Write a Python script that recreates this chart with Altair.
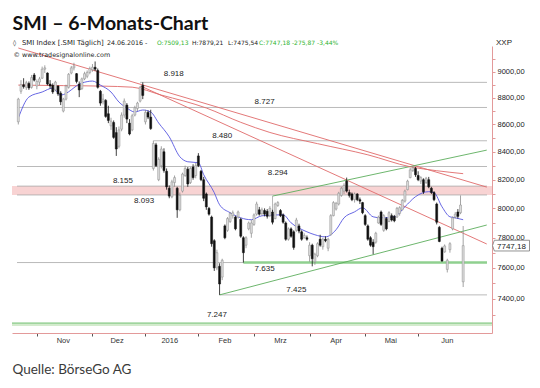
import altair as alt
import pandas as pd

# ---------------- data ----------------
opens = [8620, 8850, 8900, 8880, 8910, 8880, 8975,
         8890, 8920, 8950, 9020, 8990, 8905, 8895, 8860, 8890, 8835,
         8700, 8790, 8880, 8990, 9030, 8985, 8905, 8870, 8945, 8965, 8995,
         9015, 9035, 9010, 8850, 8770, 8780, 8680, 8590, 8615, 8540,
         8440, 8565, 8670, 8745, 8610, 8560, 8670, 8720, 8775, 8895,
         8620, 8690, 8655, 8280, 8450, 8200, 8300, 8400, 8260, 8140,
         8080, 8180, 8140, 7990, 8120, 8230, 8275, 8180, 8290, 8230,
         8370, 8260, 8200, 8100, 8000, 7940, 7780, 7600, 7610, 7540,
         7880, 7850, 7910, 7950, 7940, 7940, 7925, 7800, 7750, 7860,
         7830, 7890, 7960, 7990, 7965, 7985, 7980, 7950, 7975, 7930,
         8020, 7985, 7955, 7900, 7790, 7860, 7840, 7850, 7880, 7840,
         7800, 7800, 7680, 7750, 7640, 7680, 7790, 7740, 7790, 7730,
         7820, 7950, 7995, 8030, 8090, 8120, 8190, 8110, 8100, 8060,
         8100, 8060, 8040, 7950, 7880, 7800, 7770, 7770, 7900, 7975,
         7850, 7930, 7910, 7950, 7945, 7940, 7965, 7990, 8050, 8130,
         8215, 8265, 8280, 8230, 8190, 8200, 8180, 8200, 8140, 8110,
         8030, 7870, 7730, 7705, 7590, 7720, 7860, 7940, 7975, 7970,
         7509.13]
highs = [8800, 8935, 8950, 8930, 8925, 8975, 8990,
         8940, 8960, 9040, 9050, 8995, 8935, 8910, 8930, 8895, 8850,
         8800, 8900, 8990, 9045, 9070, 8990, 8925, 8955, 9000, 9010, 9040,
         9060, 9080, 9025, 8860, 8830, 8790, 8740, 8650, 8630, 8580,
         8585, 8690, 8795, 8760, 8640, 8680, 8740, 8770, 8890, 8918,
         8710, 8705, 8710, 8480, 8465, 8360, 8440, 8425, 8280, 8160,
         8200, 8230, 8150, 8110, 8250, 8300, 8290, 8290, 8310, 8320,
         8390, 8270, 8220, 8110, 8010, 7950, 7790, 7720, 7630, 7660,
         7890, 7940, 7975, 7985, 7950, 7985, 7935, 7810, 7810, 7910,
         7920, 7965, 8046, 8010, 8005, 8000, 7995, 8015, 7990, 8040,
         8050, 7995, 7965, 7910, 7870, 7870, 7850, 7935, 7895, 7850,
         7830, 7815, 7770, 7760, 7700, 7770, 7820, 7800, 7810, 7800,
         7960, 8050, 8045, 8115, 8150, 8175, 8215, 8130, 8110, 8110,
         8105, 8075, 8045, 7960, 7890, 7810, 7790, 7840, 7950, 7985,
         7960, 7940, 7980, 7965, 7955, 8010, 8015, 8065, 8130, 8200,
         8285, 8294, 8290, 8260, 8225, 8210, 8220, 8220, 8150, 8120,
         8040, 7880, 7740, 7755, 7660, 7770, 7945, 7975, 7995, 8090,
         7879.21]
lows = [8600, 8830, 8870, 8860, 8860, 8870, 8925,
        8865, 8895, 8945, 8990, 8895, 8870, 8830, 8850, 8815, 8745,
        8690, 8780, 8870, 8980, 9010, 8910, 8805, 8860, 8935, 8950, 8980,
        9000, 9005, 8870, 8740, 8750, 8650, 8610, 8560, 8495, 8370,
        8425, 8550, 8650, 8610, 8520, 8550, 8660, 8700, 8765, 8790,
        8600, 8640, 8560, 8265, 8290, 8190, 8280, 8250, 8130, 8070,
        8070, 8150, 7935, 7980, 8110, 8220, 8150, 8170, 8200, 8210,
        8290, 8190, 8050, 7990, 7950, 7740, 7580, 7585, 7425, 7520,
        7790, 7840, 7900, 7930, 7850, 7930, 7800, 7635, 7730, 7850,
        7800, 7880, 7950, 7950, 7950, 7945, 7930, 7940, 7890, 7925,
        8010, 7940, 7895, 7780, 7780, 7800, 7720, 7840, 7830, 7780,
        7795, 7780, 7640, 7610, 7620, 7670, 7740, 7720, 7770, 7710,
        7815, 7945, 7985, 8020, 8080, 8100, 8110, 8075, 8050, 8040,
        8050, 8030, 7960, 7880, 7780, 7740, 7690, 7760, 7895, 7880,
        7840, 7850, 7905, 7910, 7905, 7935, 7950, 7985, 8040, 8125,
        8210, 8255, 8220, 8190, 8170, 8100, 8170, 8140, 8100, 8050,
        7890, 7770, 7640, 7700, 7570, 7700, 7850, 7930, 7930, 7960,
        7475.54]
closes = [8790, 8900, 8885, 8915, 8875, 8955, 8935,
          8925, 8945, 9020, 9030, 8905, 8890, 8845, 8920, 8830, 8770,
          8790, 8890, 8980, 9030, 9045, 8925, 8860, 8945, 8985, 8995, 9025,
          9035, 9020, 8880, 8760, 8790, 8660, 8630, 8625, 8505, 8420,
          8560, 8670, 8775, 8640, 8530, 8665, 8725, 8760, 8880, 8818,
          8690, 8655, 8570, 8460, 8300, 8345, 8420, 8265, 8150, 8085,
          8185, 8215, 7990, 8090, 8240, 8280, 8170, 8280, 8215, 8300,
          8300, 8200, 8070, 8010, 7960, 7760, 7600, 7700, 7495, 7650,
          7800, 7930, 7965, 7970, 7860, 7975, 7810, 7700, 7800, 7900,
          7900, 7955, 8030, 7960, 7990, 7960, 7945, 8000, 7905, 8030,
          8040, 7950, 7905, 7790, 7860, 7810, 7735, 7920, 7845, 7790,
          7815, 7790, 7750, 7660, 7690, 7760, 7750, 7790, 7780, 7790,
          7950, 8040, 8035, 8105, 8140, 8160, 8120, 8090, 8060, 8100,
          8060, 8050, 7970, 7890, 7790, 7750, 7740, 7830, 7940, 7890,
          7950, 7860, 7970, 7920, 7915, 8000, 8005, 8055, 8120, 8190,
          8270, 8285, 8235, 8200, 8215, 8115, 8210, 8150, 8110, 8060,
          7905, 7775, 7645, 7745, 7650, 7760, 7935, 7960, 7945, 8023.05,
          7747.18]

# moving averages
blue_ma_i = [0, 4, 9, 13, 16, 24, 28, 31, 35, 38, 41, 44, 47, 50, 53, 57, 61, 64, 68, 70,
             74, 76, 80, 84, 88, 92, 100, 103, 109, 112, 116, 120, 123, 127, 130, 134,
             137, 142, 146, 150, 155, 157, 160, 163, 165, 168]
blue_ma_v = [8648, 8806, 8844, 8874, 8821, 8913, 8928, 8897, 8844, 8768, 8723, 8693, 8708,
             8693, 8611, 8509, 8364, 8328, 8321, 8236, 8109, 8025, 7970, 7935, 7922, 7949,
             7956, 7901, 7840, 7820, 7806, 7854, 7935, 7976, 8004, 7942, 7935, 7942, 8011,
             8081, 8116, 8109, 8011, 7942, 7935, 7922]
red_ma_i = [0, 17, 32, 43, 54, 71, 84, 95, 113, 132, 148, 158, 168]
red_ma_v = [8897, 8893, 8889, 8881, 8821, 8723, 8616, 8541, 8459, 8378, 8292, 8264, 8243]

# horizontal levels
level_vals = [8918, 8727, 8480, 8294, 8155, 8093, 7635, 7425]
level_from = [46, -0.5, 51, -0.5, -0.5, -0.5, -0.5, 76]
band_lo, band_hi = 8093, 8155
green_level, green_from = 7635, 85
support_lo, support_hi = 7228, 7247

# trend lines (start index, start value, end index, end value)
red_tl = [(0, 9186, 176.9, 8148), (46.2, 8890, 176.9, 7758)]
green_tl = [(96, 8085, 176.9, 8412), (76, 7425, 176.9, 7886)]

# level labels
lab_above = ["8.727", "8.480", "8.155", "7.425"]
lab_above_i = [93, 77, 39.5, 105]
lab_above_v = [8727, 8480, 8155, 7425]
lab_high = ["8.918", "7.247"]
lab_high_i = [58.7, 75]
lab_high_v = [8918, 7247]
lab_below = ["8.294", "8.093", "7.635"]
lab_below_i = [98, 47.5, 93]
lab_below_v = [8294, 8093, 7635]

months = ["Nov", "Dez", "2016", "Feb", "Mrz", "Apr", "Mai", "Jun"]
month_mid = [17, 37.3, 57.2, 78, 99, 120, 140.7, 162]
month_start = [7, 28, 48, 68, 89, 110, 131, 151]
y_ticks = list(range(7300, 9101, 100))

# header line pieces (text, colour key)
header_parts = ["◊", "SMI Index [.SMI  Täglich]", "24.06.2016 -", "O:7509,13",
                "H:7879,21", "L:7475,54", "C:7747,18 -275,87 -3,44%"]
header_green = [False, False, False, True, False, False, True]

# ---------------- chart ----------------
W, H = 480, 287
FONT = "Liberation Sans"
SUBFONT = "DejaVu Sans"
PINK_AX = "#e39a9a"
GREEN = "#2fb52f"

df = pd.DataFrame({"i": list(range(len(closes))), "o": opens, "h": highs, "l": lows, "c": closes})
df["dir"] = ["up" if c >= o else "down" for o, c in zip(opens, closes)]

xs = alt.Scale(domain=[-0.5, 177], nice=False, zero=False)
ys = alt.Scale(type="log", domain=[7185, 9202], nice=False, zero=False)

x_axis = alt.Axis(values=month_start, labels=False, ticks=True, tickSize=3, tickColor="#555",
                  domainColor=PINK_AX, grid=False, title=None)
y_axis = alt.Axis(orient="right", values=y_ticks, grid=False, title=None,
                  labelExpr="datum.value % 200 == 0 ? replace(format(datum.value, '.2f'), '.', ',') : ''",
                  labelFont=FONT, labelFontSize=7.5, labelColor="#222", labelPadding=2,
                  tickSize=3, tickColor=PINK_AX, domainColor=PINK_AX)


def X(field):
    return alt.X(field, scale=xs, axis=x_axis)


def Y(field):
    return alt.Y(field, scale=ys, axis=y_axis)


one = pd.DataFrame({"k": [0]})

band = alt.Chart(pd.DataFrame({"lo": [band_lo], "hi": [band_hi]})).mark_rect(
    color="#f8d3d3").encode(x=alt.value(0), x2=alt.value(W), y=Y("lo:Q"), y2="hi:Q")
support = alt.Chart(pd.DataFrame({"lo": [support_lo], "hi": [support_hi]})).mark_rect(
    color="#d3ebcd").encode(x=alt.value(0), x2=alt.value(W), y=Y("lo:Q"), y2="hi:Q")
support_line = alt.Chart(pd.DataFrame({"v": [support_hi]})).mark_rule(
    color="#74c274", strokeWidth=1).encode(x=alt.value(0), x2=alt.value(W), y=Y("v:Q"))

lev = pd.DataFrame({"v": level_vals, "a": level_from, "b": [177] * len(level_vals)})
levels = alt.Chart(lev).mark_rule(color="#a8a8a8", strokeWidth=0.8).encode(
    x=X("a:Q"), x2="b:Q", y=Y("v:Q"))
green_lv = alt.Chart(pd.DataFrame({"v": [green_level], "a": [green_from], "b": [177]})).mark_rule(
    color="#8fd08f", strokeWidth=2.5).encode(x=X("a:Q"), x2="b:Q", y=Y("v:Q"))


def tl_df(rows):
    return pd.DataFrame(rows, columns=["a", "va", "b", "vb"])


red_lines = alt.Chart(tl_df(red_tl)).mark_rule(color="#e06a6a", strokeWidth=0.9, clip=True).encode(
    x=X("a:Q"), x2="b:Q", y=Y("va:Q"), y2="vb:Q")
green_lines = alt.Chart(tl_df(green_tl)).mark_rule(color="#5cae5c", strokeWidth=0.9, clip=True).encode(
    x=X("a:Q"), x2="b:Q", y=Y("va:Q"), y2="vb:Q")
connector = alt.Chart(pd.DataFrame({"a": [96], "va": [8085], "vb": [7960]})).mark_rule(
    color="#999", strokeWidth=0.7).encode(x=X("a:Q"), y=Y("va:Q"), y2="vb:Q")

red_ma = alt.Chart(pd.DataFrame({"i": red_ma_i, "v": red_ma_v})).mark_line(
    color="#e06a6a", strokeWidth=0.9, interpolate="monotone", clip=True).encode(
    x=X("i:Q"), y=Y("v:Q"))
blue_ma = alt.Chart(pd.DataFrame({"i": blue_ma_i, "v": blue_ma_v})).mark_line(
    color="#5656e0", strokeWidth=0.9, interpolate="monotone", clip=True).encode(
    x=X("i:Q"), y=Y("v:Q"))

col = alt.Color("dir:N", scale=alt.Scale(domain=["up", "down"], range=["#8c8c8c", "#111111"]), legend=None)
fill = alt.Fill("dir:N", scale=alt.Scale(domain=["up", "down"], range=["#dcdcdc", "#111111"]), legend=None)

wicks = alt.Chart(df).mark_rule(strokeWidth=0.8).encode(
    x=X("i:Q"), y=Y("l:Q"), y2="h:Q", color=col)
bodies = alt.Chart(df).mark_bar(size=2, strokeWidth=0.5).encode(
    x=X("i:Q"), y=Y("o:Q"), y2="c:Q", fill=fill, stroke=col)


def labels(texts, xi, vals, dy):
    return alt.Chart(pd.DataFrame({"t": texts, "i": xi, "v": vals})).mark_text(
        font=FONT, fontSize=8, color="#222", dy=dy, baseline="middle").encode(
        x=X("i:Q"), y=Y("v:Q"), text="t:N")


lab1 = labels(lab_above, lab_above_i, lab_above_v, -5)
lab2 = labels(lab_high, lab_high_i, lab_high_v, -8)
lab3 = labels(lab_below, lab_below_i, lab_below_v, 6.5)

month_text = alt.Chart(pd.DataFrame({"m": months, "i": month_mid})).mark_text(
    font=FONT, fontSize=7.5, color="#333", baseline="middle").encode(
    x=X("i:Q"), y=alt.value(H + 8), text="m:N")

# last value box on the right axis
last = pd.DataFrame({"v": [closes[-1]], "t": [f"{closes[-1]:.2f}".replace(".", ",")]})
last_box = alt.Chart(last).mark_point(
    shape="M -0.9 -0.29 L 1 -0.29 L 1 0.29 L -0.9 0.29 L -1 0 Z",
    size=1369, filled=True, fill="white", stroke="#777", strokeWidth=0.8, opacity=1, dy=1.5).encode(
    x=alt.value(W + 19), y=Y("v:Q"))
last_txt = alt.Chart(last).mark_text(font=FONT, fontSize=8, color="#222", align="left",
                                     baseline="middle", dy=1.5).encode(
    x=alt.value(W + 5), y=Y("v:Q"), text="t:N")


def free_text(txt, x, y, size, color="#222", weight="normal", font=FONT, baseline="alphabetic"):
    return alt.Chart(one).mark_text(text=txt, font=font, fontSize=size, color=color,
                                    fontWeight=weight, align="left", baseline=baseline).encode(
        x=alt.value(x), y=alt.value(y))


header_x = [1, 10, 95, 145, 180, 216, 247]
header_size = [6.3, 6.9, 6.3, 6.0, 6.0, 6.0, 6.0]
texts = [free_text(t, hx, -0.8, hs, GREEN if g else "#222", "normal", SUBFONT)
         for t, hx, hs, g in zip(header_parts, header_x, header_size, header_green)]
texts += [
    free_text("SMI – 6-Monats-Chart", 0.5, -16.5, 19.5, "#111", "bold", "Lato"),
    free_text("© www.tradesignalonline.com", 1.5, 10.5, 6.4, "#222", "normal", SUBFONT),
    free_text("XXP", W + 4, -0.8, 8),
    free_text("Quelle: BörseGo AG", 0.5, 328, 13.5, "#3a3a3a", "normal", "Lato"),
]

chart = alt.layer(
    band, support, support_line, levels, green_lv, red_lines, green_lines, connector,
    red_ma, blue_ma, wicks, bodies, lab1, lab2, lab3, month_text, last_box, last_txt, *texts
).properties(
    width=W, height=H,
    autosize=alt.AutoSizeParams(type="none"),
    padding={"left": 4, "top": 38, "right": 38, "bottom": 44},
    background="white",
).configure_view(stroke=None)

chart.save("out.html", embed_options={"renderer": "svg", "actions": False})
